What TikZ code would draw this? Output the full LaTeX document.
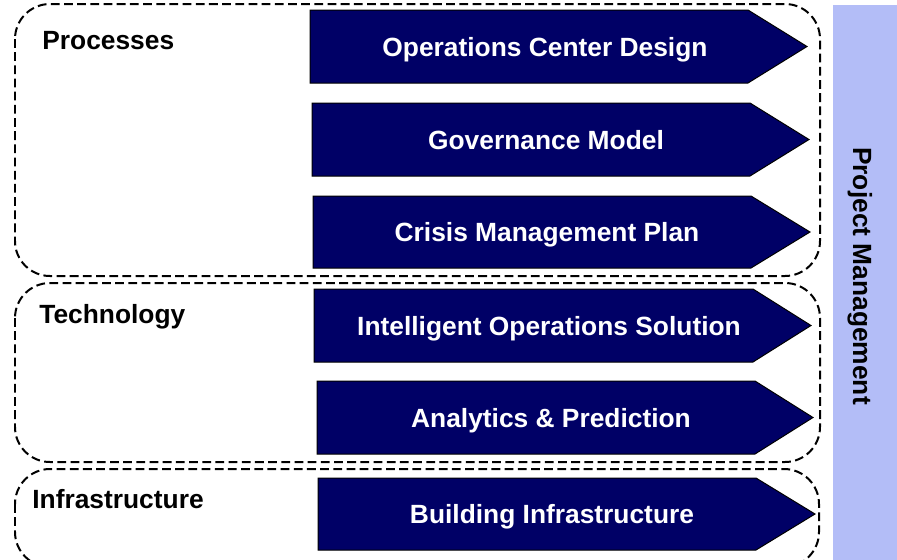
\documentclass[tikz,border=0pt]{standalone}
\usepackage{fontspec}
\setmainfont{Liberation Sans}
\definecolor{arrownavy}{RGB}{0,0,102}
\definecolor{pmlavender}{RGB}{179,189,247}
\tikzset{
  groupbox/.style={dash pattern=on 5pt off 2.5pt, line width=0.04cm, rounded corners=0.7cm},
  chevron/.style={fill=arrownavy, draw=black, line width=0.02cm},
  chevronlabel/.style={anchor=base, text=white, font=\bfseries\fontsize{15}{18}\selectfont},
  grouplabel/.style={anchor=base west, inner sep=0pt, font=\bfseries\fontsize{15}{18}\selectfont},
}
\begin{document}
\begin{tikzpicture}[x=0.02cm, y=-0.02cm]
                \useasboundingbox (0,0) rectangle (897,559);
                \clip (0,0) rectangle (897,559);
                
                % Drawing bar Project Management
                \fill [pmlavender] (833,5) rectangle (900,565);%
                \node [grouplabel, anchor=base, rotate=-90] (pm) at (853,276) {Project Management};%
                
                % Drawing group Processes
                \draw [groupbox] (15,4) rectangle (820,276);%
                \node [grouplabel] (processes) at (42,49) {Processes};%
                
                % Drawing group Technology
                \draw [groupbox] (15,283) rectangle (820,462);%
                \node [grouplabel] (technology) at (39,323) {Technology};%
                
                % Drawing group Infrastructure
                \draw [groupbox] (15,469) rectangle (819,567);%
                \node [grouplabel] (infrastructure) at (32,508) {Infrastructure};%
                
                % Drawing arrow Operations Center Design
                \draw [chevron] (310,10) -- (748,10) -- (807,46.5) -- (748,83) -- (310,83) -- cycle;%
                \node [chevronlabel] (ocd) at (545,56) {Operations Center Design};%
                
                % Drawing arrow Governance Model
                \draw [chevron] (312,103) -- (750,103) -- (809,139.5) -- (750,176) -- (312,176) -- cycle;%
                \node [chevronlabel] (gov) at (546,149) {Governance Model};%
                
                % Drawing arrow Crisis Management Plan
                \draw [chevron] (313,196) -- (751,196) -- (810,232) -- (751,268) -- (313,268) -- cycle;%
                \node [chevronlabel] (crisis) at (547,241.5) {Crisis Management Plan};%
                
                % Drawing arrow Intelligent Operations Solution
                \draw [chevron] (314,289) -- (753,289) -- (811,325.5) -- (753,362) -- (314,362) -- cycle;%
                \node [chevronlabel] (ios) at (549,335) {Intelligent Operations Solution};%
                
                % Drawing arrow Analytics & Prediction
                \draw [chevron] (317,381) -- (755,381) -- (813,417.5) -- (755,454) -- (317,454) -- cycle;%
                \node [chevronlabel] (analytics) at (551,427) {Analytics \& Prediction};%
                
                % Drawing arrow Building Infrastructure
                \draw [chevron] (318,478) -- (756,478) -- (815,514) -- (756,550) -- (318,550) -- cycle;%
                \node [chevronlabel] (building) at (552,523.5) {Building Infrastructure};%
            \end{tikzpicture}
\end{document}
